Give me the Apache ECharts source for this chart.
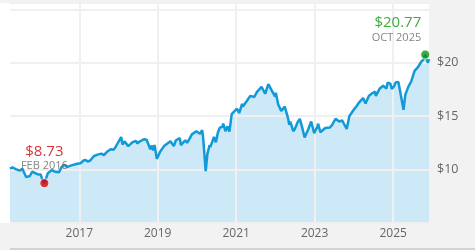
<!DOCTYPE html>
<html>
<head>
<meta charset="utf-8">
<script src="https://cdn.jsdelivr.net/npm/echarts@6/dist/echarts.min.js"></script>
<style>html,body{margin:0;padding:0;background:#f2f2f2}#c{width:475px;height:250px}</style>
</head>
<body>
<div id="c"></div>
<script>
const dates = ['2015-03-28','2015-04-20','2015-05-20','2015-06-29','2015-07-20','2015-08-25','2015-09-29','2015-10-20','2015-11-05','2015-12-14',
'2016-01-07','2016-01-20','2016-02-11','2016-03-14','2016-04-20','2016-05-19','2016-06-27','2016-07-20','2016-08-15','2016-09-12','2016-10-20','2016-11-04','2016-12-13',
'2017-01-15','2017-02-10','2017-03-01','2017-03-20','2017-04-13','2017-05-15','2017-06-20','2017-07-25','2017-08-10','2017-08-18','2017-09-20','2017-10-20','2017-11-15','2017-12-04','2017-12-18',
'2018-01-26','2018-02-08','2018-02-26','2018-03-09','2018-04-02','2018-05-10','2018-06-12','2018-06-25','2018-07-20','2018-08-29','2018-09-20','2018-10-03','2018-10-24','2018-11-07','2018-11-20','2018-12-03','2018-12-24',
'2019-01-25','2019-03-01','2019-04-30','2019-05-03','2019-05-31','2019-06-20','2019-07-26','2019-08-05','2019-08-14','2019-09-15','2019-10-02','2019-10-28','2019-11-15','2019-12-27',
'2020-01-31','2020-02-19','2020-02-28','2020-03-23','2020-04-08','2020-04-29','2020-05-05','2020-06-08','2020-06-26','2020-07-15','2020-08-03','2020-08-25','2020-09-02','2020-09-23','2020-10-12','2020-10-30','2020-11-20',
'2021-01-08','2021-01-29','2021-02-25','2021-03-04','2021-04-08','2021-05-12','2021-06-18','2021-07-12','2021-08-25','2021-09-28','2021-10-27','2021-11-26','2021-12-28',
'2022-01-05','2022-01-27','2022-02-24','2022-03-29','2022-04-05','2022-04-29','2022-05-10','2022-05-20','2022-06-02','2022-06-16','2022-07-01','2022-07-25','2022-08-16','2022-09-06','2022-09-30','2022-10-12','2022-11-04','2022-11-30','2022-12-28',
'2023-01-10','2023-01-27','2023-02-02','2023-02-24','2023-03-13','2023-04-10','2023-05-24','2023-06-15','2023-06-30','2023-07-15','2023-07-31','2023-08-18','2023-09-15','2023-10-27','2023-11-20','2023-12-28',
'2024-01-31','2024-02-20','2024-03-08','2024-03-28','2024-04-19','2024-05-20','2024-06-20','2024-07-16','2024-07-24','2024-08-05','2024-08-30','2024-09-30','2024-10-31','2024-11-11','2024-12-06','2024-12-19',
'2025-01-10','2025-01-23','2025-02-19','2025-03-13','2025-04-08','2025-04-24','2025-05-20','2025-06-20','2025-07-20','2025-08-20','2025-09-20','2025-10-10','2025-10-27','2025-11-20','2025-12-01'];
const values = [10.10,10.20,10.05,9.90,10.10,9.30,9.40,9.80,9.85,9.55,
9.55,9.15,8.73,9.65,9.95,9.80,9.75,10.25,10.45,10.25,10.40,10.25,10.55,
10.60,10.85,10.90,10.75,10.85,11.25,11.40,11.50,11.55,11.35,11.70,11.90,11.85,12.10,12.35,
13.05,12.35,12.65,12.75,12.20,12.55,12.70,12.45,12.65,12.85,12.80,12.90,11.90,12.25,11.80,12.30,11.00,
11.70,12.20,12.65,12.75,12.20,12.75,12.95,12.30,12.40,12.75,12.50,12.95,13.30,13.60,
13.35,13.70,13.00,9.85,11.50,12.30,12.10,13.05,12.55,13.50,13.95,14.00,14.30,13.60,14.05,13.55,15.20,
15.70,15.30,16.15,15.90,16.40,16.90,16.80,17.25,17.75,17.10,18.00,17.45,16.85,
17.20,16.10,15.50,15.90,15.85,14.80,14.20,14.50,14.40,13.60,13.80,14.40,14.75,14.00,13.00,12.90,13.80,14.50,13.40,
13.70,14.00,14.30,13.50,13.40,13.90,13.95,14.20,14.50,14.75,14.90,14.50,14.60,13.80,15.00,15.55,
16.00,16.30,16.40,16.70,16.20,16.90,17.15,17.30,16.90,16.75,17.60,17.85,17.60,18.15,18.05,17.55,
17.80,18.15,18.20,17.00,15.60,17.00,17.70,18.30,19.25,19.60,20.10,20.30,20.77,20.00,20.35];
const xTickLabels = ['2017-01-01','2019-01-01','2021-01-01','2023-01-01','2025-01-01'];
const yTickLabels = [10, 15, 20];
const monthNames = ['JAN','FEB','MAR','APR','MAY','JUN','JUL','AUG','SEP','OCT','NOV','DEC'];

const toTs = s => Date.parse(s + 'T00:00:00Z');
const series = dates.map((d, i) => [toTs(d), values[i]]);
let lowIdx = 0, highIdx = 0;
values.forEach((v, i) => { if (v < values[lowIdx]) lowIdx = i; if (v > values[highIdx]) highIdx = i; });
function mLabel(ts) { const dt = new Date(ts); return monthNames[dt.getUTCMonth()] + ' ' + dt.getUTCFullYear(); }
const xTicks = xTickLabels.map(toTs);
const FONT = 'Open Sans';

const chart = echarts.init(document.getElementById('c'), null, {renderer: 'canvas'});
chart.setOption({
  animation: false,
  backgroundColor: '#f2f2f2',
  textStyle: {fontFamily: FONT},
  grid: {left: 10, right: 46, top: 3, bottom: 27},
  graphic: {elements: [
    {type: 'rect', z: -10, silent: true, shape: {x: 0, y: 3, width: 429, height: 220}, style: {fill: '#ffffff'}},
    {type: 'rect', z: -10, silent: true, shape: {x: 10, y: 248, width: 465, height: 2}, style: {fill: '#d2d2d2'}}
  ]},
  xAxis: {
    type: 'value', z: 1, scale: true,
    min: series[0][0], max: series[series.length - 1][0],
    axisLine: {show: false},
    axisTick: {show: false, customValues: xTicks},
    splitLine: {show: true, lineStyle: {color: '#f0f0f0', width: 2}},
    axisLabel: {customValues: xTicks, color: '#666', fontSize: 12, margin: 5, fontFamily: FONT,
      formatter: v => String(new Date(v).getUTCFullYear())}
  },
  yAxis: {
    type: 'value', position: 'right', z: 1,
    min: 5, max: 25.6, interval: 5,
    axisLine: {show: false}, axisTick: {show: false},
    splitLine: {show: true, lineStyle: {color: '#f0f0f0', width: 2}},
    axisLabel: {color: '#666', fontSize: 12.5, margin: 8, fontFamily: FONT,
      formatter: v => yTickLabels.indexOf(v) >= 0 ? '$' + v : ''}
  },
  series: [
    {type: 'line', data: series, z: 0, showSymbol: false, symbol: 'none', lineStyle: {width: 0},
      areaStyle: {color: '#cde9f7', opacity: 1}, silent: true},
    {type: 'line', data: series, z: 3, showSymbol: false, symbol: 'none',
      lineStyle: {width: 2.5, color: '#1199d8'}, silent: true},
    {type: 'scatter', z: 5, symbolSize: 9, data: [series[lowIdx]],
      itemStyle: {color: '#d80000', borderColor: '#fff', borderWidth: 1},
      label: {show: true, position: 'top', distance: 6,
        formatter: p => '{v|$' + p.value[1].toFixed(2) + '}\n{d|' + mLabel(p.value[0]) + '}',
        rich: {v: {color: '#d00000', fontSize: 15, lineHeight: 17, fontFamily: FONT},
               d: {color: '#666', fontSize: 11, lineHeight: 12, fontFamily: FONT}}}},
    {type: 'scatter', z: 5, symbolSize: 9, data: [series[highIdx]],
      itemStyle: {color: '#0d960d', borderColor: '#fff', borderWidth: 1},
      label: {show: true, position: 'top', distance: 6, align: 'right', offset: [-4, 0],
        formatter: p => '{v|$' + p.value[1].toFixed(2) + '}\n{d|' + mLabel(p.value[0]) + '}',
        rich: {v: {color: '#0f960f', fontSize: 15, lineHeight: 17, align: 'right', fontFamily: FONT},
               d: {color: '#666', fontSize: 11, lineHeight: 12, align: 'right', fontFamily: FONT}}}}
  ]
});
</script>
</body>
</html>
